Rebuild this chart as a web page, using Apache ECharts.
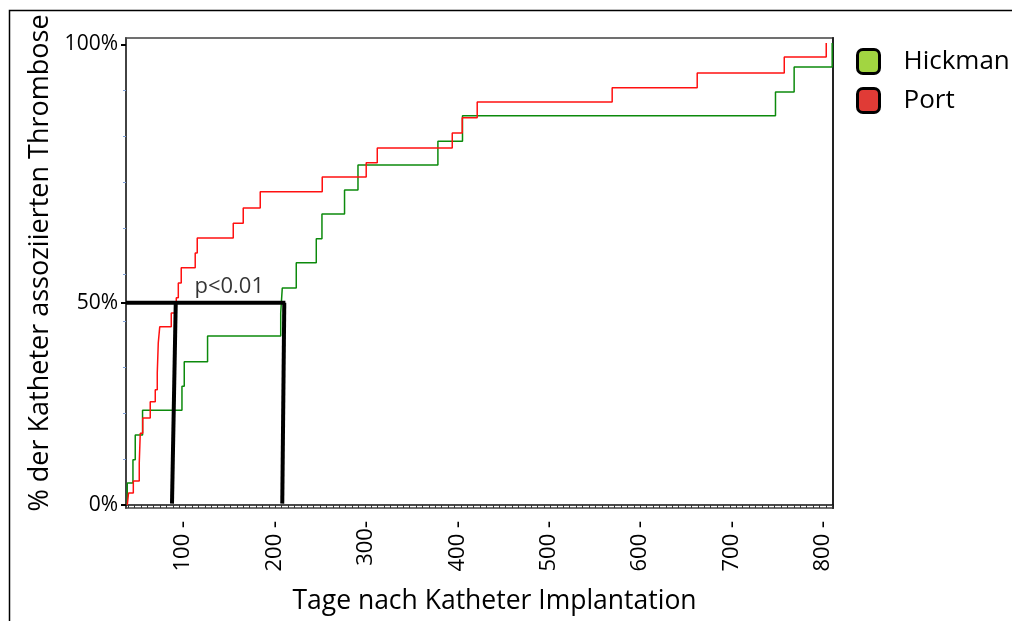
<!DOCTYPE html>
<html>
<head>
<meta charset="utf-8">
<script src="https://cdn.jsdelivr.net/npm/echarts@6/dist/echarts.min.js"></script>
<style>
html,body{margin:0;padding:0;background:#fff;}
#chart{width:1012px;height:621px;}
</style>
</head>
<body>
<div id="chart"></div>
<script>
// ---- data (days, % on the drawn axis) ----
const seriesNames = ['Hickman', 'Port'];
const hickmanDays = [39.1, 39.1, 45.3, 47.8, 55.8, 98.9, 101.4, 126.9, 206.9, 208.6, 223.9, 245.8, 252.0, 276.7, 291.4, 378.8, 405.7, 748.0, 768.4, 810.0];
const hickmanPct  = [0, 4.8, 9.8, 15.2, 20.6, 25.8, 31.1, 36.7, 41.7, 47.1, 52.6, 57.8, 63.2, 68.4, 73.8, 79.0, 84.5, 89.7, 95.1, 100.3];
const portDays = [39.1, 40.5, 45.7, 52.2, 53.3, 56.0, 64.2, 69.7, 71.9, 73.0, 74.6, 87.2, 92.7, 94.9, 98.1, 113.4, 115.6, 155.0, 165.9, 184.5, 252.3, 300.4, 312.5, 394.5, 405.4, 421.8, 569.4, 662.4, 757.6, 803.5];
const portPct  = [0, 2.6, 5.2, 9.1, 15.6, 18.9, 22.4, 25.0, 28.7, 35.2, 38.7, 41.7, 45.0, 48.2, 51.5, 54.7, 58.0, 61.2, 64.5, 68.0, 71.2, 74.3, 77.5, 80.8, 84.1, 87.5, 90.6, 93.8, 97.3, 100.3];
// median annotation (line from axis at the "50%" level down to the x axis)
const medianLevel = 43.9;
const medianTop = [92.1, 210.8];
const medianBottom = [88.0, 208.6];
const medianEndDay = 212;
const pText = 'p<0.01';
const pTextPos = [150.6, 47.3];
// ticks
const xTickValues = [100, 200, 300, 400, 500, 600, 700, 800];
const xTickLabels = ['100 -', '200 -', '300-', '400 -', '500 -', '600 -', '700 -', '800 -'];
const yTickValues = [0, medianLevel, 100];
const yTickLabels = ['0%', '50%', '100%'];
const yMinorValues = [10, 20, 30, 40, 50, 60, 70, 80, 90];
const xTitle = 'Tage nach Katheter Implantation';
const yTitle = '% der Katheter assoziierten Thrombose';

const xMin = 37.7, xMax = 810.9, yMin = -0.65, yMax = 101.4;
const xMinor = [];
for (let v = 40; v < xMax; v += 7) xMinor.push(v);

const zip = (a, b) => a.map((v, i) => [v, b[i]]);
const FONT = '"Open Sans", "Noto Sans", sans-serif';

const chart = echarts.init(document.getElementById('chart'), null, {renderer: 'canvas'});
const blackLine = {color: '#000', width: 4, cap: 'butt'};
const seg = (data) => ({type: 'line', data, symbol: 'none', lineStyle: blackLine, silent: true, z: 5, animation: false});

chart.setOption({
  animation: false,
  grid: {left: 126, top: 38, right: 179, bottom: 113, show: true, borderColor: '#707070', borderWidth: 2, backgroundColor: '#fff'},
  xAxis: [{
    type: 'value', min: xMin, max: xMax,
    axisLine: {lineStyle: {color: '#111', width: 1.5}},
    axisTick: {show: true, customValues: xMinor, length: 3, lineStyle: {color: '#333', width: 1}},
    axisLabel: {customValues: xTickValues, rotate: 90, margin: 13, fontSize: 22, color: '#000', fontFamily: FONT,
      formatter: (v) => { const i = xTickValues.indexOf(Math.round(v)); return i >= 0 ? xTickLabels[i] : ''; }},
    splitLine: {show: false},
    name: xTitle, nameLocation: 'middle', nameGap: 80,
    nameTextStyle: {fontSize: 26.5, color: '#000', fontFamily: FONT, padding: [0, 0, 0, 30]}
  }],
  yAxis: [{
    type: 'value', min: yMin, max: yMax,
    axisLine: {show: true, lineStyle: {color: '#333', width: 1.5}},
    axisTick: {show: true, customValues: yTickValues, length: 5, lineStyle: {color: '#000', width: 2}},
    axisLabel: {customValues: yTickValues, margin: 8, fontSize: 21, color: '#000', fontFamily: FONT,
      formatter: (v) => { let best = 0; yTickValues.forEach((t, i) => { if (Math.abs(t - v) < Math.abs(yTickValues[best] - v)) best = i; }); return yTickLabels[best]; }},
    splitLine: {show: false},
    name: yTitle, nameLocation: 'middle', nameGap: 68, nameRotate: 90,
    nameTextStyle: {fontSize: 27, color: '#000', fontFamily: FONT, padding: [0, 0, 0, 20]}
  }, {
    type: 'value', min: yMin, max: yMax, position: 'left',
    axisLine: {show: false},
    axisTick: {show: true, customValues: yMinorValues, length: 3, lineStyle: {color: '#7e9fd6', width: 1}},
    axisLabel: {show: false}, splitLine: {show: false}
  }, {
    type: 'value', min: yMin, max: yMax, position: 'right',
    axisLine: {show: true, lineStyle: {color: '#222', width: 2}},
    axisTick: {show: false}, axisLabel: {show: false}, splitLine: {show: false}
  }],
  legend: {
    orient: 'vertical', left: 856, top: 48, padding: 0, itemWidth: 22, itemHeight: 24, itemGap: 12,
    textStyle: {fontSize: 26, color: '#000', fontFamily: FONT, padding: [0, 0, 0, 19]},
    data: [
      {name: seriesNames[0], icon: 'roundRect', itemStyle: {color: '#a2d541', borderColor: '#000', borderWidth: 3}},
      {name: seriesNames[1], icon: 'roundRect', itemStyle: {color: '#e03b36', borderColor: '#000', borderWidth: 3}}
    ]
  },
  series: [
    {name: seriesNames[0], type: 'line', step: 'end', data: zip(hickmanDays, hickmanPct), symbol: 'none',
      lineStyle: {color: '#0c8a0c', width: 1.5}, itemStyle: {color: '#0c8a0c'}, z: 3},
    {name: seriesNames[1], type: 'line', step: 'end', data: zip(portDays, portPct), symbol: 'none',
      lineStyle: {color: '#ff1010', width: 1.5}, itemStyle: {color: '#ff1010'}, z: 4},
    seg([[xMin, medianLevel], [medianEndDay, medianLevel]]),
    seg([[medianTop[0], medianLevel], [medianBottom[0], 0.3]]),
    seg([[medianTop[1], medianLevel], [medianBottom[1], 0.3]]),
    {type: 'scatter', data: [pTextPos], symbolSize: 1, itemStyle: {color: 'rgba(0,0,0,0)'}, silent: true, z: 6,
      label: {show: true, position: 'inside', formatter: pText, fontSize: 22, color: '#000', textBorderWidth: 0, fontFamily: FONT}}
  ],
  graphic: [{
    type: 'rect', shape: {x: 9.5, y: 10.5, width: 1100, height: 700},
    style: {fill: null, stroke: '#000', lineWidth: 1.5}, silent: true, z: 100
  }]
});
</script>
</body>
</html>
